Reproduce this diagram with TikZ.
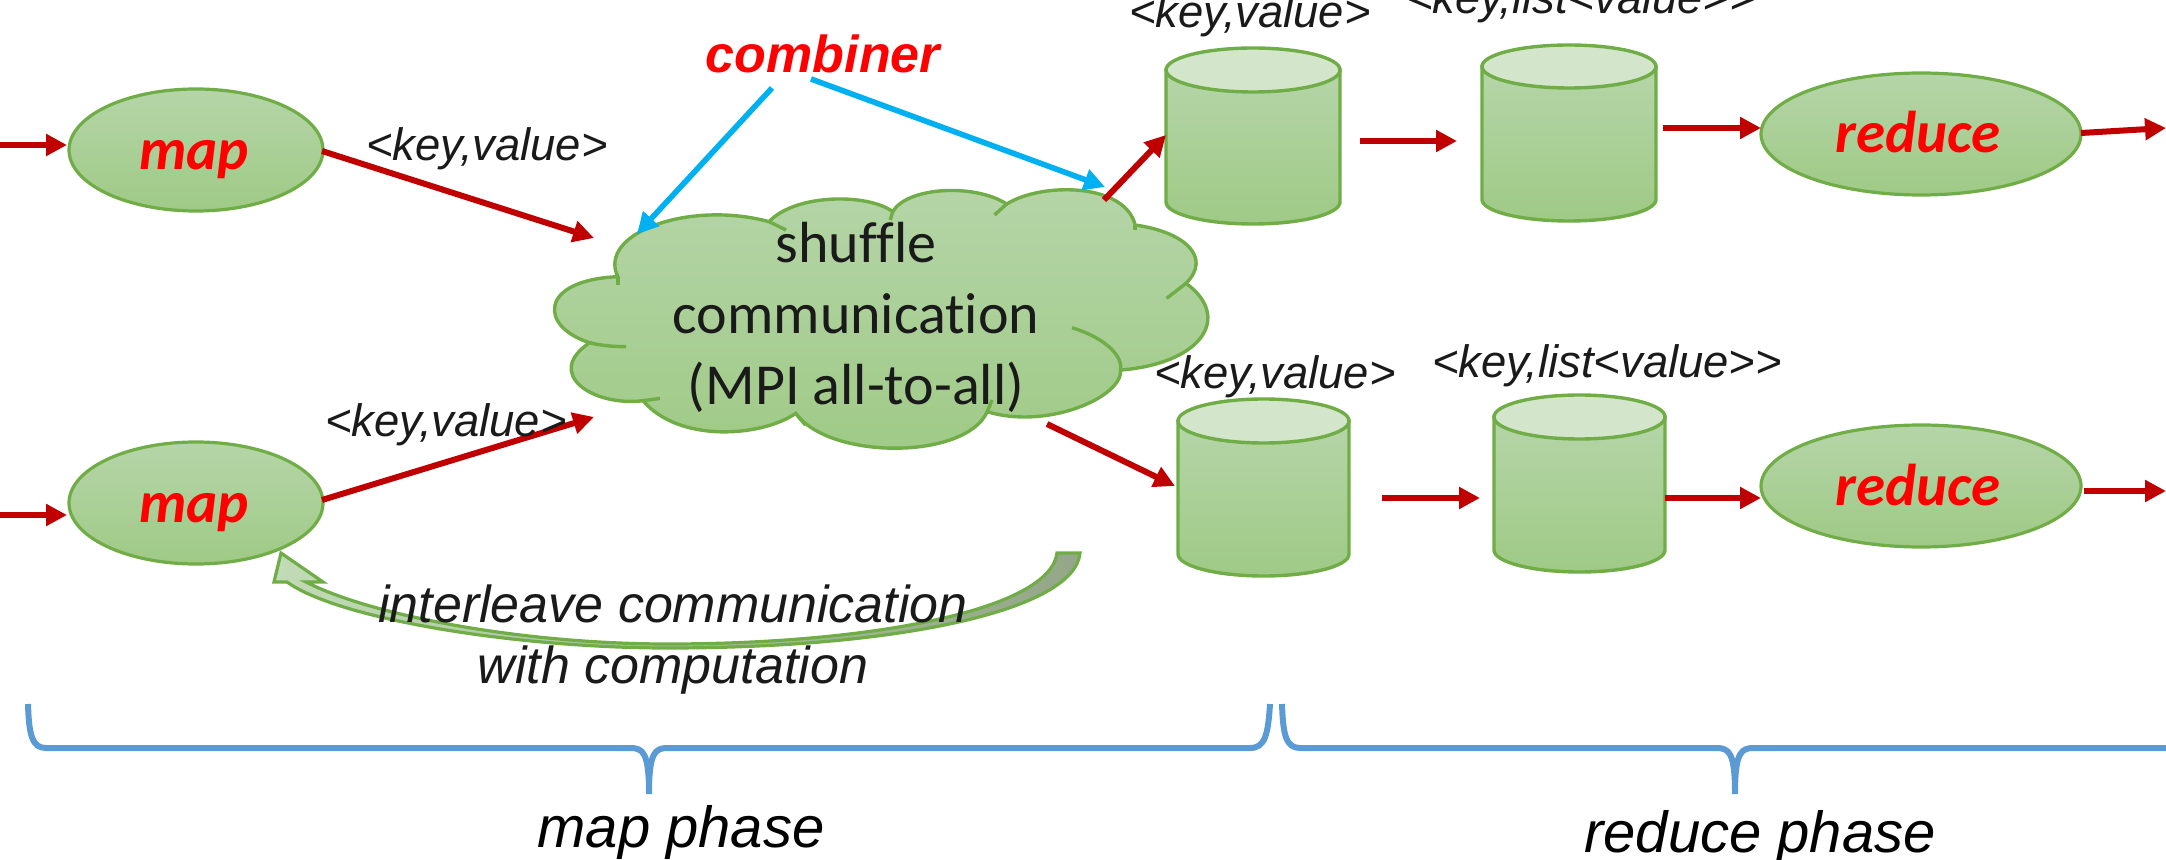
\documentclass[tikz,border=0pt]{standalone}
\usepackage{fontspec}
\setmainfont[Ligatures={TeXOff,NoCommon}]{Carlito}
\newfontfamily\arialf[Ligatures=TeXOff]{Liberation Sans}
\usetikzlibrary{arrows.meta,shapes.geometric,calc}
\definecolor{gline}{HTML}{70AD47}
\definecolor{gtop}{HTML}{B5D5A8}
\definecolor{gbot}{HTML}{9FCA86}
\definecolor{gcap}{HTML}{D3E5CB}
\definecolor{redar}{HTML}{C00000}
\definecolor{bluear}{HTML}{00B0F0}
\definecolor{brace}{HTML}{5B9BD5}
\definecolor{ink}{HTML}{1A1A1A}
\tikzset{
  oval/.style={ellipse,draw=gline,line width=1.6pt,top color=gtop,bottom color=gbot,inner sep=0pt},
  opname/.style={text=red,anchor=base,font=\fontsize{29.5}{34}\selectfont\bfseries\itshape},
  kv/.style={text=ink,font=\arialf\fontsize{22.7}{27}\selectfont\itshape},
  big/.style={text=black,font=\arialf\fontsize{29}{34}\selectfont\itshape},
  cloudtxt/.style={text=ink,align=center,font=\fontsize{29}{35.5}\selectfont},
  redarrow/.style={draw=redar,line width=3pt,-{Triangle[length=10.5pt,width=10.5pt]}},
  bluearrow/.style={draw=bluear,line width=2.8pt,-{Triangle[length=10.5pt,width=10.5pt]}},
  bracket/.style={draw=brace,line width=3pt},
  outl/.style={draw=gline,line width=1.7pt}
}
\newcommand{\drum}[5]{% left right top capbottom bottom (px)
  \path[outl,top color=gtop,bottom color=gbot]
    (#1,{(#3+#4)/2}) -- (#1,{#5-(#4-#3)/2})
    arc[start angle=180,end angle=0,x radius={(#2-#1)/2},y radius={(#4-#3)/2}]
    -- (#2,{(#3+#4)/2}) -- cycle;
  \path[outl,fill=gcap] ({(#1+#2)/2},{(#3+#4)/2}) ellipse[x radius={(#2-#1)/2},y radius={(#4-#3)/2}];
}
\begin{document}
\begin{tikzpicture}[x=0.5pt,y=-0.5pt]
\useasboundingbox (0,0) rectangle (2166,860);

% named free ends of connectors
\foreach \n/\a/\b in {
  s1/0/145, s1e/67/145, s2/0/515, s2e/67/515,
  m1o/322/151, ci1/594/238, m2o/322/500, ci2/594/417,
  co1/1104/200, d1i/1166/135, co2/1047/424, d3i/1175/486,
  d1o/1360/141, d2i/1457/141, d2o/1663/128, r1i/1761/128,
  r1o/2081/133, e1/2166/128,
  d3o/1382/498, d4i/1480/498, d4o/1665/498, r2i/1761/498,
  r2o/2084/491, e2/2166/491,
  b1s/772/88, b1e/637/234, b2s/811/79, b2e/1105/187}
  {\coordinate (\n) at (\a,\b);}

% cloud (coordinates measured on an anisotropic crop)
\begin{scope}[shift={(500,150)},x=0.2424pt,y=-0.1667pt]
  \path[outl,top color=gtop,bottom color=gbot]
    (243,380) .. controls (200,250) and (390,150) .. (555,215)
    .. controls (610,130) and (760,130) .. (810,185)
    .. controls (840,110) and (980,100) .. (1045,162)
    .. controls (1120,95) and (1290,100) .. (1310,225)
    .. controls (1410,245) and (1470,320) .. (1415,400)
    .. controls (1510,500) and (1450,640) .. (1280,660)
    .. controls (1285,740) and (1130,840) .. (1005,785)
    .. controls (960,930) and (680,930) .. (610,790)
    .. controls (540,860) and (370,880) .. (295,752)
    .. controls (190,770) and (90,670) .. (185,578)
    .. controls (80,530) and (80,390) .. (243,380) -- cycle;
  \path[outl] (243,380) -- (243,405);
  \path[outl] (185,578) .. controls (205,586) and (235,590) .. (260,590);
  \path[outl] (295,752) -- (330,745);
  \path[outl] (610,790) -- (630,825);
  \path[outl] (1005,785) -- (1015,750);
  \path[outl] (555,215) -- (590,240);
  \path[outl] (810,185) -- (805,210);
  \path[outl] (1045,162) -- (1020,195);
  \path[outl] (1310,225) -- (1310,240);
  \path[outl] (1415,400) -- (1375,445);
  \path[outl] (1180,533) .. controls (1240,560) and (1285,610) .. (1280,660);
\end{scope}

% curved arrow
\path[draw=gline,line width=1.6pt,left color=gtop!85!white,right color=gline!35!gray!80!white]
  (1080,553) .. controls (1075,610) and (900,648) .. (668,648)
  .. controls (520,648) and (340,620) .. (287,582)
  -- (274,582) -- (281,553) -- (323,582) -- (306,582)
  .. controls (370,615) and (520,644) .. (668,644)
  .. controls (870,644) and (1050,610) .. (1057,553) -- cycle;

% ovals
\node[oval,minimum width=127pt,minimum height=61pt] (map1) at (196,150) {};
\node[oval,minimum width=127pt,minimum height=61pt] (map2) at (196,503) {};
\node[oval,minimum width=160pt,minimum height=61pt] (red1) at (1921,134) {};
\node[oval,minimum width=160pt,minimum height=61pt] (red2) at (1921,486) {};
\node[opname] (lmap1) at (194,170) {map};
\node[opname] (lmap2) at (194,523) {map};
\node[opname] (lred1) at (1918,153) {reduce};
\node[opname] (lred2) at (1918,505) {reduce};

% drums
\drum{1166}{1340}{48}{92}{224}
\drum{1482}{1656}{45}{88}{221}
\drum{1178}{1349}{399}{443}{576}
\drum{1494}{1665}{395}{439}{572}

% connectors
\foreach \p/\q in {s1/s1e,s2/s2e,m1o/ci1,m2o/ci2,co1/d1i,co2/d3i,d1o/d2i,d2o/r1i,r1o/e1,d3o/d4i,d4o/r2i,r2o/e2}
  \draw[redarrow] (\p) -- (\q);
\draw[bluearrow] (b1s) -- (b1e);
\draw[bluearrow] (b2s) -- (b2e);

% brackets
\draw[bracket] (28,704) .. controls (29,735) and (32,748) .. (46,748) -- (630,748)
  .. controls (643,748) and (649,752) .. (649,794)
  .. controls (649,752) and (655,748) .. (668,748) -- (1250,748)
  .. controls (1265,748) and (1268,735) .. (1270,704);
\draw[bracket] (1282,704) .. controls (1283,735) and (1286,748) .. (1300,748) -- (1716,748)
  .. controls (1729,748) and (1735,752) .. (1735,794)
  .. controls (1735,752) and (1741,748) .. (1754,748) -- (2166,748);

% text
\node[text=red,anchor=base,font=\arialf\fontsize{26}{30}\selectfont\bfseries\itshape] (comb) at (823,73) {combiner};
\node[kv] (k1) at (487,149) {<key,value>};
\node[kv] (k2) at (446,425) {<key,value>};
\node[kv] (k3) at (1250,16) {<key,value>};
\node[kv] (k4) at (1581,2) {<key,list<value>{}>};
\node[kv] (k5) at (1275,377) {<key,value>};
\node[kv] (k6) at (1607,366) {<key,list<value>{}>};
\node[cloudtxt] (shuf) at (856,317) {shuffle\\communication\\(MPI all-to-all)};
\node[text=ink,align=center,font=\arialf\fontsize{26}{30.5}\selectfont\itshape] (inter) at (673,640) {interleave communication\\with computation};
\node[big,anchor=base] (mp) at (681,847) {map phase};
\node[big,anchor=base] (rp) at (1760,852) {reduce phase};
\end{tikzpicture}
\end{document}
